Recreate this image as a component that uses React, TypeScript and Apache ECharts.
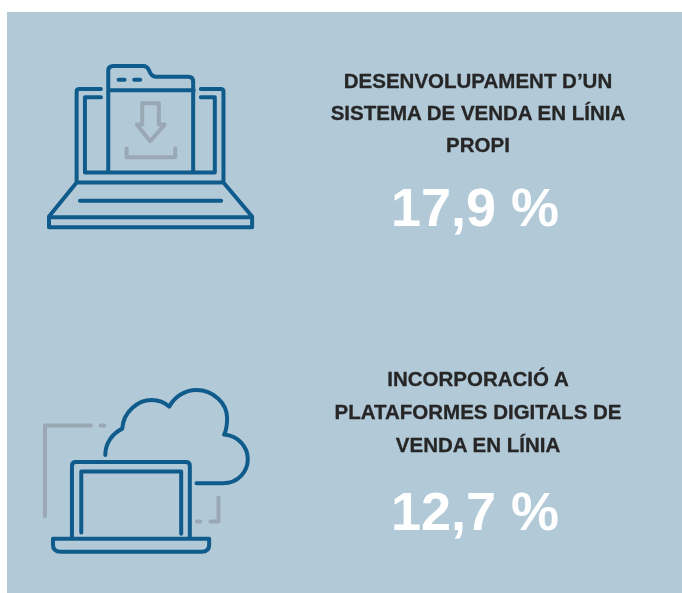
import React, { useEffect, useRef } from "react";
import * as echarts from "echarts";

const headingsTop = ["DESENVOLUPAMENT D’UN", "SISTEMA DE VENDA EN LÍNIA", "PROPI"];
const headingsBottom = ["INCORPORACIÓ A", "PLATAFORMES DIGITALS DE", "VENDA EN LÍNIA"];
const values = ["17,9 %", "12,7 %"];

const BG = "#b2c9d7";
const BLUE = "#0f5b8b";
const GRAY = "#9aa8b6";
const INK = "#262626";

const laptopBlue =
  "M213 117 H148 Q140 117 140 125 V398 H581 V125 Q581 117 573 117 H513 " +
  "M213 142 H165 V368 H555 V142 H513 " +
  "M235 365 V62 Q235 48 250 48 H340 Q352 48 358 62 Q364 80 378 80 H475 Q490 80 490 95 V365 " +
  "M235 121 H492 M266 89 H284 M313 89 H331 " +
  "M140 398 L57 500 V532 H667 V500 L581 398 M57 502 H667 M150 453 H574";
const laptopGray =
  "M337 160 H387 V224 H404 L361 274 L321 224 H337 Z M290 296 V322 H436 V296";
const cloudBlue =
  "M226 225 C226 190 248 160 277 146 C280 95 325 60 365 60 C385 60 405 68 418 80 C435 50 465 30 500 30 " +
  "C550 30 592 70 592 115 C592 132 590 150 583 164 C625 168 654 200 654 238 C654 275 625 310 580 310 H500 " +
  "M126 475 V258 Q126 246 138 246 H468 Q480 246 480 258 V475 " +
  "M154 458 V275 H454 V462 " +
  "M69 477 H538 V495 Q538 516 515 516 H92 Q69 516 69 495 Z";
const cloudGray =
  "M183 137 H45 V409 M212 137 H223 M566 353 V425 H542 M501 425 H511";

echarts.graphic.registerShape("laptopBlue", echarts.graphic.extendPath(laptopBlue, {}));
echarts.graphic.registerShape("laptopGray", echarts.graphic.extendPath(laptopGray, {}));
echarts.graphic.registerShape("cloudBlue", echarts.graphic.extendPath(cloudBlue, {}));
echarts.graphic.registerShape("cloudGray", echarts.graphic.extendPath(cloudGray, {}));

const icon = (type: string, x: number, y: number, stroke: string) => ({
  type,
  x,
  y,
  scaleX: 1 / 3,
  scaleY: 1 / 3,
  style: { fill: "none", stroke, lineWidth: 12, lineCap: "round", lineJoin: "round" },
});

const centered = (text: string, cx: number, y: number, size: number, fill: string, weight = 0) => ({
  type: "text",
  x: cx,
  y,
  style: {
    text,
    fill,
    stroke: weight ? fill : undefined,
    lineWidth: weight,
    font: `bold ${size}px "Liberation Sans", Arial, sans-serif`,
    textAlign: "center",
    textVerticalAlign: "middle",
  },
});

export default function App() {
  const ref = useRef<HTMLDivElement>(null);
  useEffect(() => {
    const chart = echarts.init(ref.current!, null, { renderer: "svg" });
    chart.setOption({
      animation: false,
      graphic: {
        elements: [
          { type: "rect", shape: { x: 7, y: 12, width: 675, height: 581 }, style: { fill: BG } },
          icon("laptopGray", 30, 50, GRAY),
          icon("laptopBlue", 30, 50, BLUE),
          icon("cloudGray", 30, 380, GRAY),
          icon("cloudBlue", 30, 380, BLUE),
          ...headingsTop.map((t, i) => centered(t, 478, 80 + i * 32, 20.5, INK, 0.3)),
          centered(values[0], 475, 207, 54, "#ffffff"),
          ...headingsBottom.map((t, i) => centered(t, 478, 378 + i * 33, 20.5, INK, 0.3)),
          centered(values[1], 475, 511, 54, "#ffffff"),
        ],
      },
    });
    return () => chart.dispose();
  }, []);
  return <div ref={ref} style={{ position: "fixed", left: 0, top: 0, width: 682, height: 593 }} />;
}
